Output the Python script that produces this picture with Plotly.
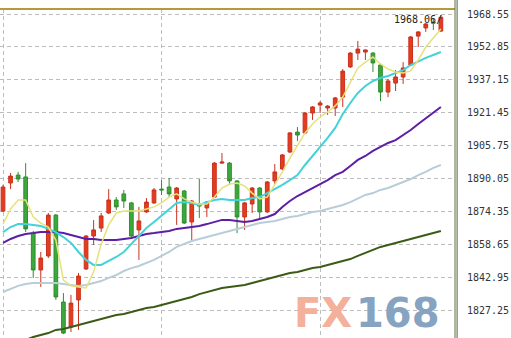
import plotly.graph_objects as go

# ---- data ----
opens = [1874.5, 1887.9, 1891.7, 1890.8, 1864.0, 1846.4, 1853.1, 1872.6, 1831.1, 1819.2,
         1832.1, 1846.9, 1862.6, 1866.4, 1873.6, 1879.8, 1882.7, 1878.4, 1865.5, 1874.1,
         1878.4, 1885.0, 1886.0, 1880.3, 1884.1, 1869.3, 1877.9, 1876.0, 1881.2, 1897.4,
         1897.4, 1888.9, 1871.7, 1877.9, 1885.5, 1874.1, 1888.9, 1894.6, 1902.7, 1912.2,
         1911.8, 1921.3, 1925.1, 1923.7, 1923.7, 1928.9, 1943.3, 1949.9, 1950.4, 1949.9,
         1944.2, 1931.3, 1935.6, 1938.5, 1944.2, 1958.0, 1961.9, 1964.7, 1960.4]
highs = [1887.0, 1892.7, 1893.2, 1897.4, 1865.0, 1855.0, 1873.6, 1873.1, 1835.4, 1834.5,
         1845.0, 1863.1, 1870.2, 1873.6, 1885.0, 1881.2, 1884.6, 1878.9, 1876.5, 1880.7,
         1885.5, 1889.3, 1890.3, 1886.0, 1884.6, 1879.8, 1889.8, 1879.3, 1897.9, 1902.2,
         1897.9, 1889.3, 1878.9, 1886.0, 1886.0, 1888.9, 1897.0, 1901.7, 1912.2, 1914.6,
         1921.8, 1924.6, 1927.0, 1925.1, 1929.0, 1942.3, 1950.4, 1955.7, 1951.6, 1950.4,
         1944.7, 1937.5, 1941.8, 1945.6, 1958.0, 1960.4, 1964.2, 1966.2, 1968.06]
lows = [1874.1, 1885.0, 1888.4, 1864.5, 1842.6, 1838.3, 1852.1, 1832.1, 1815.8, 1816.8,
        1817.8, 1846.4, 1858.3, 1864.5, 1873.1, 1875.0, 1876.0, 1862.1, 1851.2, 1873.6,
        1877.9, 1882.2, 1881.2, 1867.9, 1868.3, 1860.7, 1871.2, 1871.7, 1880.7, 1897.0,
        1887.0, 1864.0, 1865.5, 1873.6, 1871.2, 1873.6, 1887.4, 1894.1, 1902.2, 1907.9,
        1911.3, 1918.0, 1921.3, 1920.4, 1919.9, 1924.2, 1942.8, 1946.6, 1946.6, 1940.9,
        1927.0, 1928.9, 1931.8, 1935.2, 1943.7, 1952.8, 1960.0, 1960.9, 1960.0]
closes = [1886.0, 1891.2, 1889.8, 1866.0, 1846.4, 1852.1, 1872.6, 1833.5, 1816.3, 1830.6,
          1843.5, 1862.6, 1865.5, 1872.2, 1879.8, 1876.5, 1879.3, 1862.6, 1869.8, 1878.8,
          1884.6, 1884.6, 1882.7, 1885.5, 1868.8, 1879.3, 1876.9, 1878.8, 1897.4, 1897.9,
          1888.9, 1871.7, 1878.4, 1885.5, 1874.1, 1888.4, 1893.2, 1901.3, 1911.8, 1910.8,
          1921.3, 1924.2, 1926.1, 1924.6, 1928.5, 1941.3, 1949.9, 1951.8, 1951.4, 1945.2,
          1931.3, 1936.6, 1938.5, 1942.8, 1957.6, 1960.0, 1963.8, 1964.2, 1967.0]

ma_yellow = [1868.3, 1875.5, 1879.8, 1879.8, 1871.7, 1868.8, 1866.9, 1860.7, 1841.6, 1838.8,
             1838.3, 1837.8, 1845.4, 1858.8, 1867.9, 1873.6, 1874.5, 1874.5, 1874.5, 1875.5,
             1876.5, 1878.4, 1881.2, 1882.7, 1880.3, 1878.8, 1877.9, 1877.9, 1881.2, 1885.5,
             1887.4, 1887.9, 1886.5, 1883.1, 1880.3, 1881.2, 1887.0, 1893.2, 1899.8, 1906.0,
             1911.8, 1916.1, 1919.4, 1921.8, 1924.7, 1928.9, 1936.1, 1942.8, 1945.6, 1948.0,
             1944.7, 1942.3, 1940.9, 1940.4, 1941.4, 1946.6, 1952.8, 1957.1, 1961.4]
ma_cyan = [1864.5, 1866.9, 1868.3, 1868.3, 1867.9, 1867.4, 1866.0, 1864.5, 1862.1, 1859.3,
           1855.0, 1851.2, 1848.8, 1848.8, 1850.7, 1852.6, 1855.0, 1858.8, 1863.1, 1866.4,
           1869.3, 1872.2, 1875.5, 1878.4, 1878.8, 1878.4, 1877.4, 1878.8, 1879.8, 1880.3,
           1879.8, 1879.8, 1879.8, 1880.7, 1881.2, 1883.1, 1885.0, 1887.0, 1889.3, 1891.7,
           1896.5, 1900.8, 1904.6, 1909.4, 1914.2, 1920.8, 1926.1, 1930.9, 1934.2, 1936.6,
           1938.0, 1939.0, 1940.4, 1941.8, 1944.2, 1946.1, 1947.6, 1949.0, 1950.4]
ma_purple = [1859.3, 1861.2, 1862.6, 1863.6, 1864.0, 1864.5, 1864.5, 1864.5, 1864.0, 1863.1,
             1862.1, 1861.2, 1861.2, 1860.7, 1860.7, 1860.7, 1861.2, 1861.7, 1862.6, 1863.6,
             1864.0, 1864.5, 1865.0, 1866.0, 1866.4, 1866.9, 1867.4, 1868.3, 1869.3, 1870.3,
             1870.3, 1869.8, 1869.3, 1869.8, 1870.7, 1871.7, 1873.1, 1876.5, 1879.3, 1881.7,
             1883.6, 1885.5, 1887.0, 1889.3, 1891.7, 1893.2, 1896.0, 1898.9, 1900.8, 1903.2,
             1905.1, 1907.0, 1908.4, 1910.8, 1913.2, 1916.1, 1918.9, 1921.3, 1924.2]
ma_grey = [1835.9, 1837.3, 1838.8, 1839.7, 1840.2, 1840.2, 1840.2, 1840.2, 1839.7, 1839.2,
           1838.8, 1839.2, 1840.2, 1841.1, 1842.6, 1844.0, 1845.9, 1847.3, 1848.3, 1849.7,
           1851.2, 1853.1, 1855.0, 1857.4, 1858.8, 1860.2, 1861.2, 1862.1, 1863.1, 1864.0,
           1865.0, 1866.0, 1866.9, 1867.9, 1868.8, 1869.3, 1869.8, 1870.7, 1871.7, 1872.2,
           1873.1, 1874.1, 1874.5, 1875.5, 1876.5, 1877.4, 1878.8, 1880.7, 1882.2, 1883.1,
           1884.6, 1885.5, 1887.0, 1888.4, 1889.8, 1891.7, 1893.2, 1895.1, 1896.5]
ma_green = [1810.1, 1811.1, 1812.0, 1813.0, 1814.4, 1815.4, 1816.3, 1817.8, 1818.2, 1819.2,
            1820.1, 1821.1, 1822.1, 1823.0, 1824.0, 1824.9, 1825.4, 1826.3, 1827.3, 1828.3,
            1828.7, 1829.7, 1830.6, 1831.6, 1832.6, 1833.5, 1834.9, 1835.9, 1836.8, 1837.8,
            1838.3, 1838.8, 1839.2, 1840.2, 1841.1, 1842.1, 1843.1, 1844.0, 1845.0, 1845.4,
            1846.4, 1847.3, 1847.8, 1848.8, 1849.7, 1850.7, 1851.6, 1853.1, 1854.5, 1855.9,
            1857.4, 1858.3, 1859.3, 1860.2, 1861.2, 1862.1, 1863.1, 1864.0, 1865.0]

tick_vals = [1827.25, 1842.95, 1858.65, 1874.35, 1890.05, 1905.75, 1921.45, 1937.15, 1952.85, 1968.55]
tick_text = ["%.2f" % v for v in tick_vals]
last_label = "1968.06"

x = list(range(len(opens)))

fig = go.Figure()

ma_specs = [
    (ma_green, "#3c5a16", 2),
    (ma_grey, "#b9cdd9", 2),
    (ma_purple, "#5c1ea6", 2),
    (ma_cyan, "#44d2da", 2),
    (ma_yellow, "#e6e27a", 1.5),
]
for vals, col, w in ma_specs:
    fig.add_trace(go.Scatter(x=x, y=vals, mode="lines",
                             line=dict(color=col, width=w), hoverinfo="skip"))

fig.add_trace(go.Candlestick(
    x=x, open=opens, high=highs, low=lows, close=closes,
    increasing=dict(line=dict(color="#c8321e", width=1), fillcolor="#e63c1e"),
    decreasing=dict(line=dict(color="#2f8f2f", width=1), fillcolor="#3ca83c"),
    whiskerwidth=0,
))

fig.add_annotation(x=x[-1], y=highs[-1], xref="x", yref="y",
                   text=last_label + "/", showarrow=False,
                   xanchor="right", yanchor="middle", xshift=3, yshift=-4,
                   font=dict(family="DejaVu Sans Mono", size=10, color="#222222"))

# watermark
fig.add_annotation(x=0.778, y=0.0, xref="paper", yref="paper",
                   text="<b>FX</b>", showarrow=False, xanchor="right", yanchor="bottom",
                   font=dict(family="DejaVu Sans", size=40, color="#f3b09a"))
fig.add_annotation(x=0.778, y=0.0, xref="paper", yref="paper",
                   text="<b>168</b>", showarrow=False, xanchor="left", yanchor="bottom",
                   font=dict(family="DejaVu Sans", size=40, color="#86a4c2"))

# borders
fig.add_shape(type="line", xref="paper", yref="paper", x0=0, x1=1, y0=1, y1=1,
              line=dict(color="#b49a3c", width=2))
fig.add_shape(type="line", xref="paper", yref="paper", x0=1, x1=1, y0=0, y1=1.03,
              line=dict(color="#6a6a3a", width=1))
fig.add_shape(type="line", xref="paper", yref="paper", x0=1.0046, x1=1.0046, y0=0, y1=1.03,
              line=dict(color="#3c6a3c", width=1))

fig.update_layout(
    width=511, height=338,
    margin=dict(l=0, r=56, t=9, b=0),
    paper_bgcolor="white", plot_bgcolor="white",
    showlegend=False,
    xaxis=dict(range=[-0.4, 59.87], tickvals=[0, 21, 42], showticklabels=False,
               showgrid=True, gridcolor="#bdbdbd", griddash="4px,3px", gridwidth=1,
               zeroline=False, showline=False, ticks="",
               rangeslider=dict(visible=False)),
    yaxis=dict(range=[1813.94, 1970.94], side="right", tickvals=tick_vals, ticktext=tick_text,
               showgrid=True, gridcolor="#bdbdbd", griddash="4px,3px", gridwidth=1,
               zeroline=False, showline=False, ticks="", ticklabelstandoff=11,
               tickfont=dict(family="DejaVu Sans Mono", size=10, color="#333333")),
)

fig.write_html("out.html")
